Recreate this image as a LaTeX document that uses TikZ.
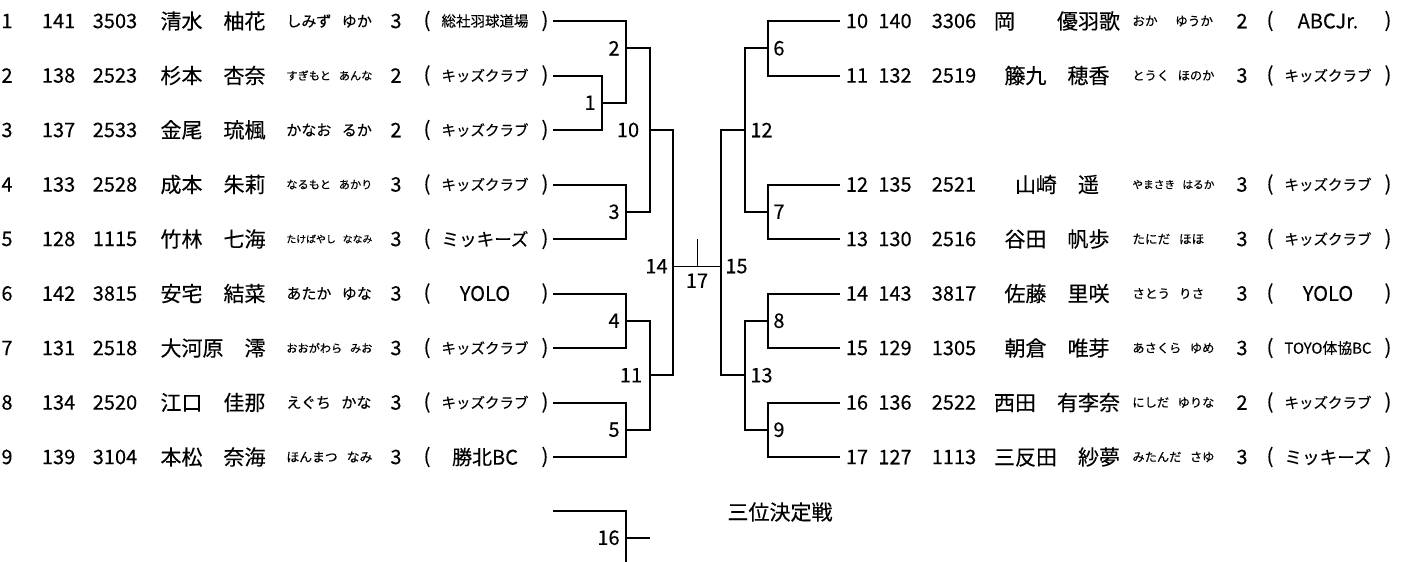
\documentclass[tikz,border=0pt]{standalone}
\usepackage{fontspec}
\setmainfont{Noto Sans CJK JP}[FakeBold=0.25]
\usepackage{graphicx}
\usetikzlibrary{positioning}

\newcommand\fitw[2]{\sbox0{#2}\ifdim\wd0>#1\relax\resizebox{#1}{!}{#2}\else\usebox0\fi}
\newcommand\ks{\hspace{.7em}}

\tikzset{
  num/.style={font=\fontsize{10}{11}\selectfont,inner sep=0pt},
  pname/.style={font=\fontsize{10.5}{12}\selectfont,inner sep=0pt},
  kana/.style={font=\fontsize{7.5}{8}\selectfont,inner sep=0pt,anchor=west},
  club/.style={font=\fontsize{10}{11}\selectfont,inner sep=0pt},
  lbl/.style={font=\fontsize{10}{11}\selectfont,inner sep=0pt},
  bline/.style={line width=1pt},
  cline/.style={line width=0.5pt}
}

\begin{document}
\begin{tikzpicture}[x=0.5pt,y=-0.5pt]
\useasboundingbox[fill=white](0,0) rectangle (1410,562);
%left players
\foreach \i/\bib/\id/\nm/\kn/\gr/\cl in {
  1/141/3503/清水　柚花/しみず\ks ゆか/3/総社羽球道場,
  2/138/2523/杉本　杏奈/すぎもと\ks あんな/2/キッズクラブ,
  3/137/2533/金尾　琉楓/かなお\ks るか/2/キッズクラブ,
  4/133/2528/成本　朱莉/なるもと\ks あかり/3/キッズクラブ,
  5/128/1115/竹林　七海/たけばやし\ks ななみ/3/ミッキーズ,
  6/142/3815/安宅　結菜/あたか\ks ゆな/3/YOLO,
  7/131/2518/大河原　澪/おおがわら\ks みお/3/キッズクラブ,
  8/134/2520/江口　佳那/えぐち\ks かな/3/キッズクラブ,
  9/139/3104/本松　奈海/ほんまつ\ks なみ/3/勝北BC}{
  \pgfmathsetmacro\y{21+54.5*(\i-1)}
  \node[num] (ln\i) at (7,\y) {\i};
  \node[num] (lb\i) at (58.6,\y) {\bib};
  \node[num] (li\i) at (115,\y) {\id};
  \node[pname] (lm\i) at (213,\y) {\nm};
  \node[kana] (lk\i) at (286,\y) {\fitw{43pt}{\kn}};
  \node[num] (lg\i) at (396,\y) {\gr};
  \node[num] (lo\i) at (427,\y) {(};
  \node[club] (lc\i) at (485,\y) {\fitw{43.5pt}{\cl}};
  \node[num] (lx\i) at (545,\y) {)};
  \coordinate (p\i) at (553,\y);
}
%right players
\foreach \i/\s/\bib/\id/\nm/\kn/\gr/\cl in {
  10/1/140/3306/岡　　優羽歌/おか\ks\ks ゆうか/2/ABCJr.,
  11/2/132/2519/籐九　穂香/とうく\ks ほのか/3/キッズクラブ,
  12/4/135/2521/山崎　遥/やまさき\ks はるか/3/キッズクラブ,
  13/5/130/2516/谷田　帆歩/たにだ\ks ほほ/3/キッズクラブ,
  14/6/143/3817/佐藤　里咲/さとう\ks りさ/3/YOLO,
  15/7/129/1305/朝倉　唯芽/あさくら\ks ゆめ/3/TOYO体協BC,
  16/8/136/2522/西田　有李奈/にしだ\ks ゆりな/2/キッズクラブ,
  17/9/127/1113/三反田　紗夢/みたんだ\ks さゆ/3/ミッキーズ}{
  \pgfmathsetmacro\y{21+54.5*(\s-1)}
  \coordinate (q\i) at (840,\y);
  \node[num] (rn\i) at (857,\y) {\i};
  \node[num] (rb\i) at (895,\y) {\bib};
  \node[num] (ri\i) at (954,\y) {\id};
  \node[pname] (rm\i) at (1057,\y) {\nm};
  \node[kana,font=\fontsize{6.3}{7}\selectfont] (rk\i) at (1132,\y) {\fitw{41pt}{\kn}};
  \node[num] (rg\i) at (1242,\y) {\gr};
  \node[num] (ro\i) at (1270,\y) {(};
  \node[club] (rc\i) at (1328,\y) {\fitw{43.5pt}{\cl}};
  \node[num] (rx\i) at (1388,\y) {)};
}
%match points
\coordinate (m1) at (602,102.75);
\coordinate (m2) at (626,48.25);
\coordinate (m3) at (626,211.75);
\coordinate (m4) at (626,320.75);
\coordinate (m5) at (626,429.75);
\coordinate (m10) at (649.5,130);
\coordinate (m11) at (649.5,375.25);
\coordinate (m14) at (673,266.25);
\coordinate (m17) at (697,266.25);
\coordinate (t17) at (697,239);
\coordinate (m15) at (721,266.25);
\coordinate (m12) at (745,130);
\coordinate (m13) at (745,375.25);
\coordinate (m6) at (768,48.25);
\coordinate (m7) at (768,211.75);
\coordinate (m8) at (768,320.75);
\coordinate (m9) at (768,429.75);
%left bracket
\draw[bline] (p2) -| (m1);
\draw[bline] (p3) -| (m1);
\draw[bline] (p1) -| (m2);
\draw[bline] (m1) -| (m2);
\draw[bline] (p4) -| (m3);
\draw[bline] (p5) -| (m3);
\draw[bline] (p6) -| (m4);
\draw[bline] (p7) -| (m4);
\draw[bline] (p8) -| (m5);
\draw[bline] (p9) -| (m5);
\draw[bline] (m2) -| (m10);
\draw[bline] (m3) -| (m10);
\draw[bline] (m4) -| (m11);
\draw[bline] (m5) -| (m11);
\draw[bline] (m10) -| (m14);
\draw[bline] (m11) -| (m14);
%final
\draw[cline] (m14) -- (m15);
\draw[cline] (m17) -- (t17);
%right bracket
\draw[bline] (q10) -| (m6);
\draw[bline] (q11) -| (m6);
\draw[bline] (q12) -| (m7);
\draw[bline] (q13) -| (m7);
\draw[bline] (q14) -| (m8);
\draw[bline] (q15) -| (m8);
\draw[bline] (q16) -| (m9);
\draw[bline] (q17) -| (m9);
\draw[bline] (m6) -| (m12);
\draw[bline] (m7) -| (m12);
\draw[bline] (m8) -| (m13);
\draw[bline] (m9) -| (m13);
\draw[bline] (m12) -| (m15);
\draw[bline] (m13) -| (m15);
%match numbers
\node[lbl,left=3pt of m1] (n1) {1};
\node[lbl,left=3pt of m2] (n2) {2};
\node[lbl,left=3pt of m3] (n3) {3};
\node[lbl,left=3pt of m4] (n4) {4};
\node[lbl,left=3pt of m5] (n5) {5};
\node[lbl,left=5pt of m10] (n10) {10};
\node[lbl,left=3.5pt of m11] (n11) {11};
\node[lbl,left=2.5pt of m14] (n14) {14};
\node[lbl,below=3.5pt of m17] (n17) {17};
\node[lbl,right=2pt of m15] (n15) {15};
\node[lbl,right=2.5pt of m12] (n12) {12};
\node[lbl,right=2.5pt of m13] (n13) {13};
\node[lbl,right=2.5pt of m6] (n6) {6};
\node[lbl,right=2.5pt of m7] (n7) {7};
\node[lbl,right=2.5pt of m8] (n8) {8};
\node[lbl,right=2.5pt of m9] (n9) {9};
%third place
\coordinate (p16) at (553,510.7);
\coordinate (m16) at (626,537.7);
\coordinate (b16) at (626,562);
\coordinate (o16) at (650,537.7);
\draw[bline] (p16) -| (m16) -- (b16);
\draw[bline] (m16) -- (o16);
\node[lbl,left=3pt of m16] (n16) {16};
\node[font=\fontsize{10.5}{12}\selectfont] (third) at (780,512) {三位決定戦};
\end{tikzpicture}
\end{document}
